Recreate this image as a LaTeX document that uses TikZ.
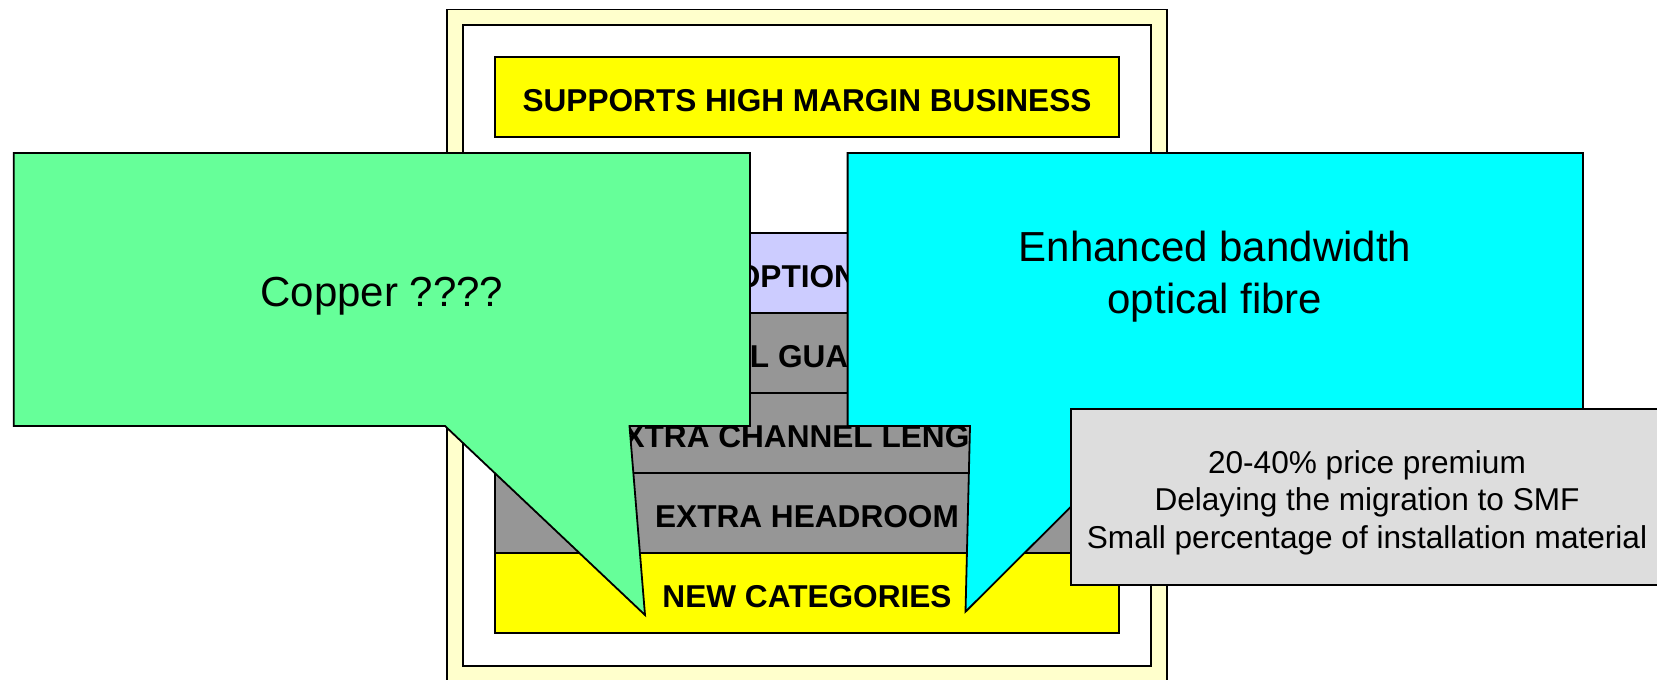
\documentclass[tikz,border=0pt]{standalone}
\usepackage{fontspec}
\setmainfont{Liberation Sans}
\usetikzlibrary{positioning}

\definecolor{frameyellow}{HTML}{FFFFCC}
\definecolor{layeryellow}{HTML}{FFFF00}
\definecolor{optionblue}{HTML}{CCCCFF}
\definecolor{layergrey}{HTML}{969696}
\definecolor{coppergreen}{HTML}{66FF99}
\definecolor{fibrecyan}{HTML}{00FFFF}
\definecolor{notegrey}{HTML}{DDDDDD}

\begin{document}
\begin{tikzpicture}[x=0.5pt, y=-0.5pt, node distance=0pt, every node/.style={align=center},
  layer/.style={rectangle, draw, line width=0.9pt, outer sep=0pt, minimum width=312pt, minimum height=40pt, text height=14.5pt, text depth=0pt, font=\fontsize{15.8pt}{19pt}\selectfont\bfseries},
  bubble/.style={draw, line width=0.9pt, line join=miter},
  bigtext/.style={font=\fontsize{21pt}{26pt}\selectfont}]

\useasboundingbox (0,0) rectangle (1657,679);
\clip (0,0) rectangle (1657,679);

% Frames
\draw[line width=0.9pt, fill=frameyellow] (447,9.5) rectangle (1167,700);
\draw[line width=0.9pt, fill=white] (463,25) rectangle (1151,666);

% Pyramid layers
\node (business) [layer, fill=layeryellow] at (807,97) {SUPPORTS HIGH MARGIN BUSINESS};
\node (options) [layer, fill=optionblue] at (807,273) {OPTIONS};
\node (guarantee) [layer, fill=layergrey, below=of options] {GLOBAL GUARANTEE};
\node (length) [layer, fill=layergrey, below=of guarantee] {EXTRA CHANNEL LENGTH};
\node (headroom) [layer, fill=layergrey, below=of length] {EXTRA HEADROOM};
\node (categories) [layer, fill=layeryellow, below=of headroom] {NEW CATEGORIES};

% Callouts
\coordinate (coppertip) at (645,615);
\coordinate (fibretip) at (965.5,611.7);
\draw[bubble, fill=coppergreen] (13.7,153) -- (750,153) -- (750,426) -- (629.5,426) -- (coppertip) -- (445,426) -- (13.7,426) -- cycle;
\node (copper) [bigtext] at (382,296) {Copper ????};
\draw[bubble, fill=fibrecyan] (847.6,153) -- (1583,153) -- (1583,426) -- (1152,426) -- (fibretip) -- (970,426) -- (847.6,426) -- cycle;
\node (fibre) [bigtext] at (1215,277) {Enhanced bandwidth\\optical fibre};

% Note
\node (premium) [rectangle, draw, line width=0.9pt, fill=notegrey, minimum width=296pt, minimum height=88pt, text height=54.5pt, text depth=3.3pt, font=\fontsize{15.8pt}{18.75pt}\selectfont] at (1367,497) {20-40\% price premium\\Delaying the migration to SMF\\Small percentage of installation material};

\end{tikzpicture}
\end{document}
